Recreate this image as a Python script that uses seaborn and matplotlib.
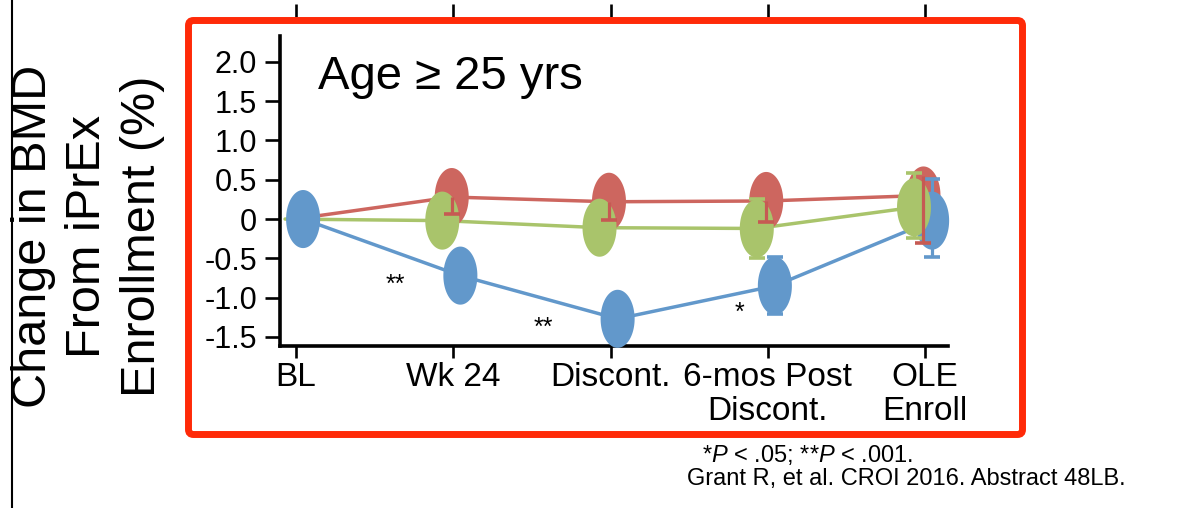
import numpy as np
import pandas as pd
import matplotlib
matplotlib.use("Agg")
import matplotlib.pyplot as plt
import seaborn as sns
from matplotlib.path import Path
from matplotlib.patches import FancyBboxPatch
from matplotlib.lines import Line2D

# ---------------- data ----------------
categories = ["BL", "Wk 24", "Discont.", "6-mos Post\nDiscont.", "OLE\nEnroll"]
groups = ["Group 1", "Group 2", "Group 3"]          # red, green, blue
red_vals = [0.0, 0.28, 0.22, 0.23, 0.30]
green_vals = [0.0, -0.02, -0.11, -0.12, 0.15]
blue_vals = [0.0, -0.72, -1.27, -0.85, -0.02]
red_lo = [np.nan, 0.06, -0.01, -0.04, -0.31]
red_hi = [np.nan, 0.28, 0.22, 0.23, 0.55]
green_lo = [np.nan, -0.30, -0.40, -0.49, -0.24]
green_hi = [np.nan, 0.26, 0.18, 0.25, 0.58]
blue_lo = [np.nan, -1.00, -1.55, -1.21, -0.48]
blue_hi = [np.nan, -0.44, -0.99, -0.48, 0.51]
yticks = [2.0, 1.5, 1.0, 0.5, 0.0, -0.5, -1.0, -1.5]
ytick_labels = ["2.0", "1.5", "1.0", "0.5", "0", "-0.5", "-1.0", "-1.5"]
sig_marks = ["**", "**", "*"]
sig_x = [0.63, 1.57, 2.82]
sig_y = [-0.93, -1.48, -1.28]

# ---------------- style ----------------
sns.set_theme(style="ticks")
plt.rcParams["font.family"] = ["Liberation Sans", "DejaVu Sans"]
plt.rcParams["mathtext.fontset"] = "custom"
plt.rcParams["mathtext.rm"] = "Liberation Sans"
plt.rcParams["mathtext.it"] = "Liberation Sans:italic"
plt.rcParams["text.color"] = "black"
plt.rcParams["xtick.color"] = "black"
plt.rcParams["ytick.color"] = "black"
plt.rcParams["xtick.labelcolor"] = "black"
plt.rcParams["ytick.labelcolor"] = "black"

colors = {"Group 1": "#CD665F", "Group 2": "#A9C46B", "Group 3": "#6298CB"}
err_colors = {"Group 1": "#C65A53", "Group 2": "#A9C46B", "Group 3": "#6298CB"}
offsets = {"Group 1": -0.01, "Group 2": -0.07, "Group 3": 0.045}

vals = {"Group 1": red_vals, "Group 2": green_vals, "Group 3": blue_vals}
los = {"Group 1": red_lo, "Group 2": green_lo, "Group 3": blue_lo}
his = {"Group 1": red_hi, "Group 2": green_hi, "Group 3": blue_hi}

rows = []
for g in groups:
    for i, v in enumerate(vals[g]):
        rows.append({"group": g, "idx": i, "x": i + offsets[g], "value": v,
                     "lo": los[g][i], "hi": his[g][i]})
df = pd.DataFrame(rows)

W, H = 1184, 508
fig = plt.figure(figsize=(W / 100, H / 100), dpi=100)
fig.patch.set_facecolor("white")

left, right, bottom, top = 280 / W, 948 / W, 1 - 346 / H, 1 - 36 / H
ax = fig.add_axes([left, bottom, right - left, top - bottom])
ax.patch.set_alpha(0)

sns.lineplot(data=df, x="x", y="value", hue="group", palette=colors,
             linewidth=2.5, legend=False, sort=False, ax=ax, zorder=2)

theta = np.linspace(0, 2 * np.pi, 91)
ellipse = Path(np.column_stack([0.293 * np.cos(theta), 0.5 * np.sin(theta)]), closed=True)
ms = 41.8
for g, z in [("Group 1", 3), ("Group 3", 4), ("Group 2", 5)]:
    sub = df[df.group == g]
    if g != "Group 3":
        sub = sub[sub.idx > 0]   # baseline markers of these groups sit behind the blue one
    sns.scatterplot(data=sub, x="x", y="value", color=colors[g], marker=ellipse,
                    s=ms ** 2, linewidth=0, edgecolor="none", legend=False,
                    ax=ax, zorder=z, clip_on=False, alpha=1)

for g in ["Group 3", "Group 2", "Group 1"]:
    sub = df[(df.group == g) & df.lo.notna()]
    eb = ax.errorbar(sub.x, sub.value, yerr=[sub.value - sub.lo, sub.hi - sub.value],
                     fmt="none", ecolor=err_colors[g], elinewidth=2.3, capsize=5.8,
                     capthick=2.6, zorder=7, clip_on=False)
    if g == "Group 1":
        eb[1][1].set_visible(False)

for m, x, y in zip(sig_marks, sig_x, sig_y):
    ax.text(x, y, m, fontsize=18, ha="center", va="baseline", color="black")

ax.set_xlim(-0.102, 4.146)
ax.set_ylim(-1.616, 2.33)
ax.set_xticks(range(len(categories)))
ax.set_xticklabels(categories, fontsize=24, linespacing=1.1)
ax.set_yticks(yticks)
ax.set_yticklabels(ytick_labels, fontsize=22)
ax.set_xlabel("")
ax.set_ylabel("")
sns.despine(ax=ax)
for s in ["left", "bottom"]:
    ax.spines[s].set_linewidth(2.6)
    ax.spines[s].set_color("black")
ax.tick_params(axis="y", length=10.5, width=1.9, pad=6, colors="black", direction="out", left=True)
ax.tick_params(axis="x", length=8.6, width=1.9, pad=3, colors="black", direction="out", bottom=True)

fig.text(318 / W, 1 - 89 / H, "Age \u2265 25 yrs", fontsize=34, ha="left", va="baseline")

fig.text(88 / W, 1 - 236 / H, "Change in BMD\nFrom iPrEx\nEnrollment (%)", fontsize=35,
         rotation=90, ha="center", va="center", multialignment="center", linespacing=1.27)

fig.text(702 / W, 1 - 462 / H, "*$P$ < .05; **$P$ < .001.", fontsize=17, ha="left", va="baseline")
fig.text(687 / W, 1 - 485 / H, "Grant R, et al. CROI 2016. Abstract 48LB.", fontsize=17,
         ha="left", va="baseline")

# top ticks of the chart above (cut off)
ax_top = fig.add_axes([left, 1 - 4 / H, right - left, 0.0001])
ax_top.patch.set_alpha(0)
ax_top.set_xlim(ax.get_xlim())
ax_top.set_xticks(range(len(categories)))
ax_top.set_xticklabels([])
ax_top.set_yticks([])
for s in ax_top.spines.values():
    s.set_visible(False)
ax_top.tick_params(axis="x", length=9.5, width=1.9, direction="out", colors="black", bottom=True)

# left vertical rule
fig.add_artist(Line2D([12 / W, 12 / W], [0, 1], transform=fig.transFigure, color="black", lw=1.5))

# red highlight box
box = FancyBboxPatch((1.885, (H - 434.5) / 100), 8.34, 4.14,
                     boxstyle="round,pad=0,rounding_size=0.05",
                     transform=fig.dpi_scale_trans, fill=False,
                     edgecolor="#FF2A08", linewidth=5.0, zorder=10)
fig.add_artist(box)

fig.savefig("out.png", dpi=100)
